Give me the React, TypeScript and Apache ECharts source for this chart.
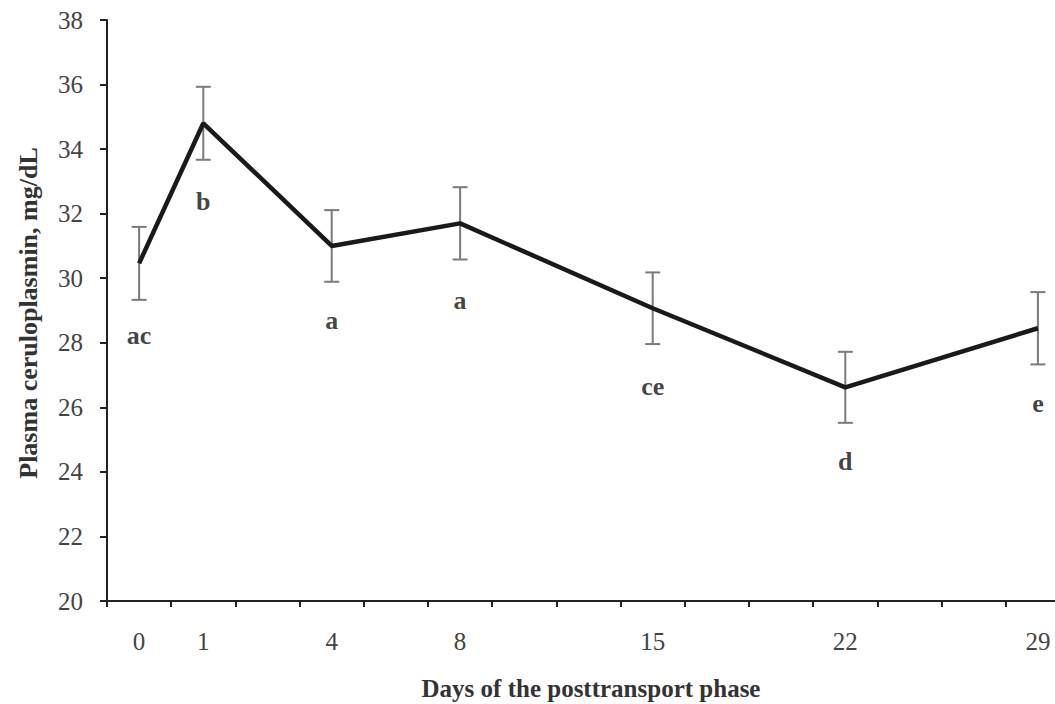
import React, { useEffect, useRef } from "react";
import * as echarts from "echarts";

const categories = ["0", "1", "", "4", "", "8", "", "", "15", "", "", "22", "", "", "29"];
const pointIndex = [0, 1, 3, 5, 8, 11, 14];
const means = [30.46, 34.8, 31.0, 31.7, 29.07, 26.62, 28.45];
const errors = [1.13, 1.13, 1.11, 1.12, 1.11, 1.1, 1.12];
const letters = ["ac", "b", "a", "a", "ce", "d", "e"];
const letterY = [28.21, 32.39, 28.7, 29.32, 26.66, 24.31, 26.13];
const yTicks = [20, 22, 24, 26, 28, 30, 32, 34, 36, 38];

const FONT = "'Liberation Serif', 'Times New Roman', serif";

export default function App() {
  const ref = useRef<HTMLDivElement>(null);
  useEffect(() => {
    document.body.style.margin = "0";
    document.body.style.overflow = "hidden";
    if (!ref.current) return;
    const chart = echarts.init(ref.current, undefined, { renderer: "svg" });
    const lineData = pointIndex.map((i, k) => [i, means[k]]);
    const errData = pointIndex.map((i, k) => [i, means[k] - errors[k], means[k] + errors[k]]);
    const letterData = pointIndex.map((i, k) => ({ value: [i, letterY[k]], name: letters[k] }));
    chart.setOption({
      animation: false,
      backgroundColor: "#ffffff",
      grid: { left: 107, top: 20, bottom: 103, right: 0, containLabel: false },
      xAxis: {
        type: "category",
        data: categories,
        boundaryGap: true,
        axisLine: { lineStyle: { color: "#222", width: 2 } },
        axisTick: { show: true, interval: 0, length: 6, lineStyle: { color: "#222", width: 2 } },
        axisLabel: { interval: 0, margin: 28, color: "#444", fontFamily: FONT, fontSize: 25 },
        splitLine: { show: false },
      },
      yAxis: {
        type: "value",
        min: yTicks[0],
        max: yTicks[yTicks.length - 1],
        interval: 2,
        axisLine: { show: true, lineStyle: { color: "#222", width: 2 } },
        axisTick: { show: true, length: 7, lineStyle: { color: "#222", width: 2 } },
        axisLabel: { margin: 24, color: "#444", fontFamily: FONT, fontSize: 25 },
        splitLine: { show: false },
      },
      graphic: [
        {
          type: "text",
          x: 28,
          y: 313,
          rotation: Math.PI / 2,
          style: {
            text: "Plasma ceruloplasmin, mg/dL",
            font: `bold 26px ${FONT}`,
            fill: "#333",
            textAlign: "center",
            textVerticalAlign: "middle",
          },
        },
        {
          type: "text",
          x: 591,
          y: 688,
          style: {
            text: "Days of the posttransport phase",
            font: `bold 25px ${FONT}`,
            fill: "#333",
            textAlign: "center",
            textVerticalAlign: "middle",
          },
        },
      ],
      series: [
        {
          type: "custom",
          data: errData,
          z: 1,
          renderItem: (params: any, api: any) => {
            const x = api.value(0);
            const lo = api.coord([x, api.value(1)]);
            const hi = api.coord([x, api.value(2)]);
            const w = 7.5;
            const style = { stroke: "#7a7a7a", lineWidth: 2 };
            return {
              type: "group",
              children: [
                { type: "line", shape: { x1: hi[0], y1: hi[1], x2: lo[0], y2: lo[1] }, style },
                { type: "line", shape: { x1: hi[0] - w, y1: hi[1], x2: hi[0] + w, y2: hi[1] }, style },
                { type: "line", shape: { x1: lo[0] - w, y1: lo[1], x2: lo[0] + w, y2: lo[1] }, style },
              ],
            };
          },
        },
        {
          type: "line",
          data: lineData,
          z: 3,
          symbol: "none",
          lineStyle: { color: "#1a1a1a", width: 4.5 },
        },
        {
          type: "scatter",
          data: letterData,
          symbolSize: 0,
          z: 4,
          label: {
            show: true,
            position: "inside",
            formatter: (p: any) => p.name,
            fontFamily: FONT,
            fontWeight: "bold",
            fontSize: 26,
            color: "#111",
          },
        },
      ],
    });
    return () => chart.dispose();
  }, []);
  return (
    <div
      ref={ref}
      style={{ position: "fixed", left: 0, top: 0, width: 1070, height: 704, background: "#fff" }}
    />
  );
}
